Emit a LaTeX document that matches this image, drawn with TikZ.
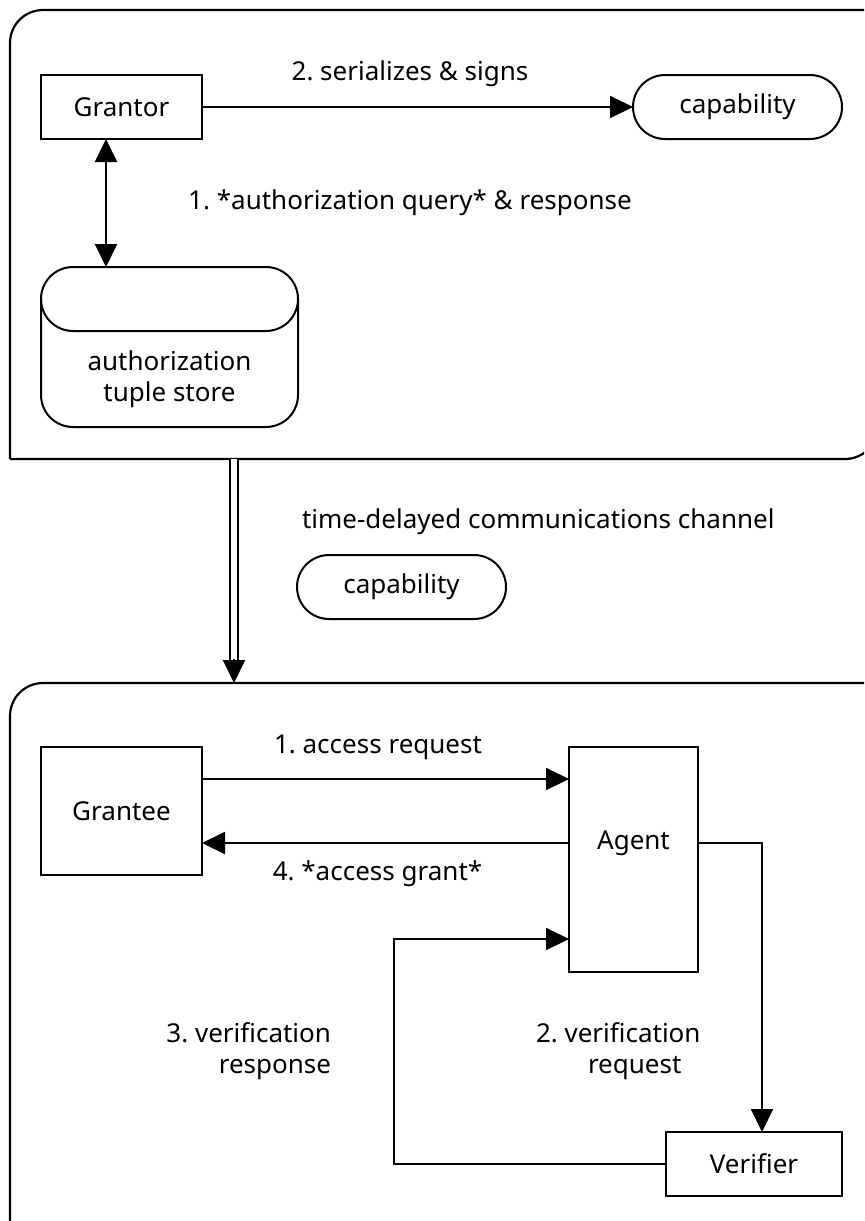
\documentclass[tikz,border=0pt]{standalone}
\usepackage{fontspec}
\setmainfont{Noto Sans}
\usetikzlibrary{arrows.meta}
\frenchspacing
\begin{document}
\begin{tikzpicture}[x=0.5pt,y=-0.5pt,
  every node/.style={font=\fontsize{13}{15.5}\selectfont, inner sep=0pt, outer sep=0pt},
  box/.style={draw, line width=1pt, minimum height=32pt},
  pill/.style={draw, line width=1pt, rounded corners=16pt, minimum height=32pt, minimum width=104.5pt},
  conn/.style={line width=1pt},
  arr/.style={conn, -{Triangle[length=11.5pt,width=11pt]}},
  darr/.style={conn, {Triangle[length=11.5pt,width=11pt]}-{Triangle[length=11.5pt,width=11pt]}},
  frame/.style={line width=1.1pt}
]
\useasboundingbox (0,0) rectangle (864,1221);
\clip (0,0) rectangle (864,1221);

% frames
\draw[frame, rounded corners=16.5pt] (10,459) -- (10,10) -- (900,10);
\draw[frame] (10,459) -- (845,459) arc[start angle=270, end angle=360, radius=16.5pt] -- (878,10);
\draw[frame, rounded corners=16.5pt] (10,1260) -- (10,683) -- (900,683);

% top part
\node[box, minimum width=80.5pt] (grantor) at (121.5,107) {Grantor};
\node[pill] (cap1) at (737.5,107) {capability};
\node[draw, line width=1pt, rounded corners=16pt, minimum width=128.5pt, minimum height=80pt] (store) at (169.5,347) {};
\draw[line width=1pt] (41,299) arc[start angle=180, end angle=270, radius=16pt] -- (266,331) arc[start angle=270, end angle=360, radius=16pt];
\node[align=center] (storetext) at (169.5,379) {authorization\\tuple store};

\coordinate (gx) at (106,0);
\draw[darr] (store.north -| gx) -- (grantor.south -| gx);
\draw[arr] (grantor.east) -- (cap1.west);
\node (l2) at (410,74) {2. serializes \& signs};
\node (l1) at (410,203) {1. *authorization query* \& response};

% channel
\coordinate (chtop) at (234,459);
\coordinate (chbot) at (234,683);
\draw[conn, double, double distance=2.75pt, shorten >=10pt] (chtop) -- (chbot);
\draw[arr] ([yshift=12pt]chbot) -- (chbot);
\node[anchor=west] (chl) at (302,522) {time-delayed communications channel};
\node[pill] (cap2) at (401.5,587) {capability};

% bottom part
\node[box, minimum width=80.5pt, minimum height=64pt] (grantee) at (121.5,811) {Grantee};
\node[box, minimum width=64.5pt, minimum height=112.5pt, label={[yshift=8.25pt]center:Agent}] (agent) at (633.5,859.5) {};
\node[box, minimum width=88pt] (verifier) at (754,1164) {Verifier};

\coordinate (r1) at (0,779);
\coordinate (r4) at (0,843);
\coordinate (r3) at (0,939);
\coordinate (vx) at (762,0);
\coordinate (lx) at (394,0);

\draw[arr] (grantee.east |- r1) -- (agent.west |- r1);
\draw[arr] (agent.west |- r4) -- (grantee.east |- r4);
\draw[arr] (agent.east |- r4) -| (verifier.north -| vx);
\draw[arr] (verifier.west) -| (lx |- r3) -- (agent.west |- r3);

\node (la1) at (378,747) {1. access request};
\node (la4) at (377.5,874) {4. *access grant*};
\node[align=right, anchor=east] (la3) at (331,1051.5) {3. verification\\response};
\node[align=left, anchor=west] (la2) at (536,1051.5) {2. verification\\\hspace*{26pt}request};
\end{tikzpicture}
\end{document}
